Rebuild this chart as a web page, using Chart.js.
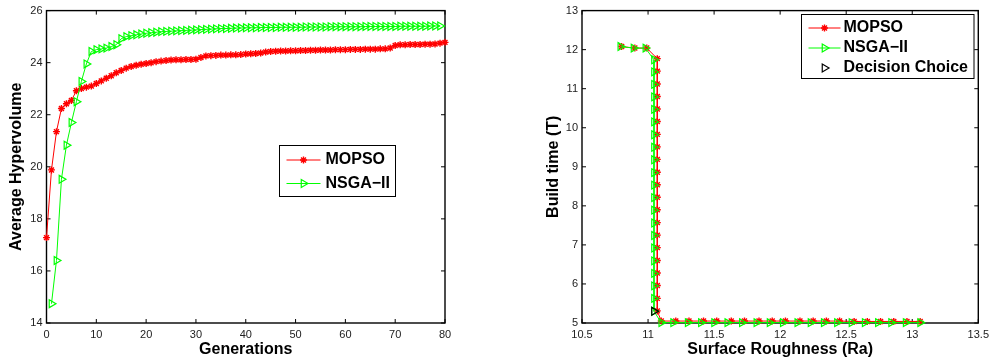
<!DOCTYPE html>
<html>
<head>
<meta charset="utf-8">
<title>MOPSO vs NSGA-II</title>
<script src="https://cdn.jsdelivr.net/npm/chart.js@4.4.1/dist/chart.umd.min.js"></script>
<style>
  html, body { margin: 0; padding: 0; background: #fff; }
  #wrap { position: relative; width: 994px; height: 363px; }
  canvas { position: absolute; top: 0; }
  #hvChart { left: 0; }
  #frontChart { left: 497px; }
</style>
</head>
<body>
<div id="wrap">
  <canvas id="hvChart" width="497" height="363"></canvas>
  <canvas id="frontChart" width="497" height="363"></canvas>
</div>
<script>
// average hypervolume per generation (MOPSO from gen 0, NSGA-II from gen 1)
const mopsoHv = [
  17.28, 19.88, 21.35, 22.24, 22.42, 22.55, 22.92, 23.01, 23.06, 23.10,
  23.20, 23.30, 23.40, 23.50, 23.61, 23.70, 23.79, 23.85, 23.90, 23.94,
  23.97, 24.00, 24.04, 24.06, 24.08, 24.10, 24.11, 24.11, 24.12, 24.12,
  24.13, 24.20, 24.26, 24.27, 24.28, 24.29, 24.29, 24.30, 24.30, 24.31,
  24.33, 24.34, 24.35, 24.37, 24.41, 24.43, 24.44, 24.45, 24.45, 24.46,
  24.46, 24.47, 24.47, 24.48, 24.48, 24.49, 24.49, 24.49, 24.50, 24.50,
  24.50, 24.51, 24.51, 24.51, 24.52, 24.52, 24.52, 24.53, 24.53, 24.56,
  24.66, 24.69, 24.69, 24.70, 24.70, 24.70, 24.71, 24.71, 24.72, 24.75,
  24.78
];
const nsgaStartGen = 1;
const nsgaHv = [
  14.74, 16.40, 19.52, 20.83, 21.70, 22.50, 23.28, 23.95, 24.43,
  24.50, 24.53, 24.56, 24.62, 24.69, 24.92, 25.00, 25.04, 25.07, 25.10,
  25.13, 25.15, 25.17, 25.19, 25.20, 25.21, 25.22, 25.23, 25.24, 25.25,
  25.26, 25.27, 25.28, 25.29, 25.30, 25.31, 25.31, 25.32, 25.33, 25.33,
  25.34, 25.34, 25.34, 25.35, 25.35, 25.35, 25.35, 25.36, 25.36, 25.36,
  25.36, 25.36, 25.37, 25.37, 25.37, 25.37, 25.37, 25.38, 25.38, 25.38,
  25.38, 25.38, 25.38, 25.38, 25.39, 25.39, 25.39, 25.39, 25.39, 25.39,
  25.39, 25.40, 25.40, 25.40, 25.40, 25.40, 25.40, 25.41, 25.41, 25.41
];
const hvTicksX = { min: 0, max: 80, step: 10 };
const hvTicksY = { min: 14, max: 26, step: 2 };

// pareto fronts: surface roughness (Ra) vs build time (T)
const mopsoRa = [
  10.80, 10.90, 10.99,
  11.07, 11.07, 11.07, 11.07, 11.07, 11.07, 11.07, 11.07, 11.07, 11.07, 11.07,
  11.07, 11.07, 11.07, 11.07, 11.07, 11.07, 11.07, 11.07, 11.07, 11.07,
  11.10,
  11.21, 11.31, 11.42, 11.52, 11.63, 11.73, 11.84, 11.94, 12.04, 12.15,
  12.25, 12.35, 12.45, 12.56, 12.66, 12.76, 12.86, 12.96, 13.06
];
const mopsoT = [
  12.08, 12.04, 12.04,
  11.77, 11.45, 11.12, 10.80, 10.48, 10.16, 9.83, 9.51, 9.19, 8.86, 8.54,
  8.22, 7.90, 7.57, 7.25, 6.93, 6.60, 6.28, 5.96, 5.63, 5.31,
  5.05,
  5.05, 5.05, 5.05, 5.05, 5.05, 5.05, 5.05, 5.05, 5.05, 5.05,
  5.05, 5.05, 5.05, 5.04, 5.04, 5.04, 5.04, 5.04, 5.04
];
const nsgaRa = [
  10.79, 10.89, 10.98,
  11.045, 11.045, 11.045, 11.045, 11.045, 11.045, 11.045, 11.045, 11.045, 11.045, 11.045,
  11.045, 11.045, 11.045, 11.045, 11.045, 11.045, 11.045, 11.045, 11.045, 11.045,
  11.10,
  11.19, 11.30, 11.40, 11.50, 11.60, 11.71, 11.82, 11.92, 12.02, 12.13,
  12.23, 12.33, 12.43, 12.54, 12.64, 12.74, 12.84, 12.95, 13.06
];
const nsgaT = [
  12.08, 12.04, 12.04,
  11.74, 11.43, 11.11, 10.79, 10.47, 10.15, 9.82, 9.50, 9.18, 8.85, 8.53,
  8.21, 7.89, 7.56, 7.24, 6.92, 6.59, 6.27, 5.95, 5.63, 5.30,
  5.01,
  5.01, 5.01, 5.01, 5.01, 5.01, 5.01, 5.01, 5.01, 5.01, 5.01,
  5.01, 5.01, 5.01, 5.01, 5.01, 5.01, 5.01, 5.01, 5.01
];
const decisionRa = [11.045];
const decisionT = [5.30];
const frontTicksX = { min: 10.5, max: 13.5, step: 0.5 };
const frontTicksY = { min: 5, max: 13, step: 1 };

const RED = '#ff0000';
const GREEN = '#00ff00';
const FONT = "'Liberation Sans', Arial, Helvetica, sans-serif";

Chart.defaults.font.family = FONT;
Chart.defaults.animation = false;

function toPoints(xs, ys) {
  return xs.map((x, i) => ({ x: x, y: ys[i] }));
}

// matlab style box with inward ticks on all four sides
const axesBox = {
  id: 'axesBox',
  beforeDatasetsDraw(chart) {
    const { ctx, chartArea: a, scales } = chart;
    const len = 4;
    ctx.save();
    ctx.strokeStyle = '#000';
    ctx.lineWidth = 1.4;
    ctx.strokeRect(a.left, a.top, a.right - a.left, a.bottom - a.top);
    ctx.lineWidth = 1;
    ctx.beginPath();
    scales.x.ticks.forEach(t => {
      const px = scales.x.getPixelForValue(t.value);
      ctx.moveTo(px, a.bottom);
      ctx.lineTo(px, a.bottom - len);
      ctx.moveTo(px, a.top);
      ctx.lineTo(px, a.top + len);
    });
    scales.y.ticks.forEach(t => {
      const py = scales.y.getPixelForValue(t.value);
      ctx.moveTo(a.left, py);
      ctx.lineTo(a.left + len, py);
      ctx.moveTo(a.right, py);
      ctx.lineTo(a.right - len, py);
    });
    ctx.stroke();
    ctx.restore();
  }
};

// boxed legend drawn inside the plot area
const boxLegend = {
  id: 'boxLegend',
  afterDatasetsDraw(chart, args, opts) {
    const ctx = chart.ctx;
    ctx.save();
    ctx.fillStyle = '#fff';
    ctx.fillRect(opts.x, opts.y, opts.w, opts.h);
    ctx.strokeStyle = '#000';
    ctx.lineWidth = 1;
    ctx.strokeRect(opts.x, opts.y, opts.w, opts.h);
    ctx.font = 'bold 16px ' + FONT;
    ctx.textBaseline = 'middle';
    chart.data.datasets.forEach((ds, i) => {
      const y = opts.y + opts.first + i * opts.gap;
      if (ds.showLine !== false) {
        ctx.strokeStyle = ds.borderColor;
        ctx.lineWidth = 1;
        ctx.beginPath();
        ctx.moveTo(opts.x + opts.lineFrom, y);
        ctx.lineTo(opts.x + opts.lineTo, y);
        ctx.stroke();
      }
      ctx.strokeStyle = ds.pointBorderColor;
      ctx.fillStyle = 'rgba(0,0,0,0)';
      ctx.lineWidth = ds.pointBorderWidth;
      Chart.helpers.drawPoint(ctx, {
        pointStyle: ds.pointStyle,
        rotation: ds.pointRotation || 0,
        radius: ds.pointRadius,
        borderWidth: ds.pointBorderWidth
      }, opts.x + (opts.lineFrom + opts.lineTo) / 2, y);
      ctx.fillStyle = '#000';
      ctx.textAlign = 'left';
      ctx.fillText(ds.label, opts.x + opts.textX, y);
    });
    ctx.restore();
  }
};

function linearAxis(range, title, titlePad, fitSize, horizontal) {
  return {
    type: 'linear',
    min: range.min,
    max: range.max,
    ticks: {
      stepSize: range.step,
      padding: horizontal ? 5 : 4,
      maxRotation: 0,
      color: '#222',
      font: { size: 11 },
      callback: v => String(v)
    },
    grid: { display: false, drawTicks: false },
    border: { display: false },
    title: {
      display: true,
      text: title,
      color: '#000',
      font: { size: 16, weight: 'bold' },
      padding: titlePad
    },
    afterFit: s => {
      if (horizontal) s.height = fitSize; else s.width = fitSize;
    }
  };
}

const mopsoStyle = {
  borderColor: RED,
  borderWidth: 1,
  pointStyle: 'star',
  pointRadius: 3.5,
  pointBorderColor: RED,
  pointBackgroundColor: RED,
  pointBorderWidth: 1.4,
  clip: false
};
const nsgaStyle = {
  borderColor: GREEN,
  borderWidth: 1,
  pointStyle: 'triangle',
  pointRotation: 90,
  pointRadius: 4.5,
  pointBorderColor: GREEN,
  pointBackgroundColor: 'rgba(0,0,0,0)',
  pointBorderWidth: 1.2,
  clip: false
};

function drawHypervolumeChart() {
  new Chart(document.getElementById('hvChart'), {
    type: 'line',
    data: {
      datasets: [
        Object.assign({ label: 'MOPSO', data: mopsoHv.map((v, i) => ({ x: i, y: v })), order: 2 }, mopsoStyle),
        Object.assign({ label: 'NSGA−II', data: nsgaHv.map((v, i) => ({ x: i + nsgaStartGen, y: v })), order: 1 }, nsgaStyle)
      ]
    },
    options: {
      responsive: false,
      events: [],
      layout: { padding: { left: 0, right: 52, top: 9, bottom: 0 } },
      plugins: {
        legend: { display: false },
        tooltip: { enabled: false },
        boxLegend: { x: 279.5, y: 145.5, w: 116, h: 51, first: 14.5, gap: 23.5, lineFrom: 7, lineTo: 41, textX: 46 }
      },
      scales: {
        x: linearAxis(hvTicksX, 'Generations', { top: 0, bottom: 4 }, 40, true),
        y: linearAxis(hvTicksY, 'Average Hypervolume', { top: 7, bottom: 0 }, 46.5, false)
      }
    },
    plugins: [axesBox, boxLegend]
  });
}

function drawParetoChart() {
  new Chart(document.getElementById('frontChart'), {
    type: 'scatter',
    data: {
      datasets: [
        Object.assign({ label: 'MOPSO', data: toPoints(mopsoRa, mopsoT), showLine: true, order: 3 }, mopsoStyle),
        Object.assign({ label: 'NSGA−II', data: toPoints(nsgaRa, nsgaT), showLine: true, order: 2 }, nsgaStyle),
        {
          label: 'Decision Choice',
          data: toPoints(decisionRa, decisionT),
          showLine: false,
          borderColor: '#000',
          pointStyle: 'triangle',
          pointRotation: 90,
          pointRadius: 4.5,
          pointBorderColor: '#000',
          pointBackgroundColor: 'rgba(0,0,0,0)',
          pointBorderWidth: 1.2,
          clip: false,
          order: 1
        }
      ]
    },
    options: {
      responsive: false,
      events: [],
      layout: { padding: { left: 0, right: 14, top: 9, bottom: 0 } },
      plugins: {
        legend: { display: false },
        tooltip: { enabled: false },
        boxLegend: { x: 304.5, y: 14.5, w: 172.5, h: 64, first: 13.5, gap: 20, lineFrom: 7, lineTo: 39, textX: 42 }
      },
      scales: {
        x: linearAxis(frontTicksX, 'Surface Roughness (Ra)', { top: 0, bottom: 4 }, 40, true),
        y: linearAxis(frontTicksY, 'Build time (T)', { top: 47, bottom: 0 }, 85, false)
      }
    },
    plugins: [axesBox, boxLegend]
  });
}

drawHypervolumeChart();
drawParetoChart();
</script>
</body>
</html>
